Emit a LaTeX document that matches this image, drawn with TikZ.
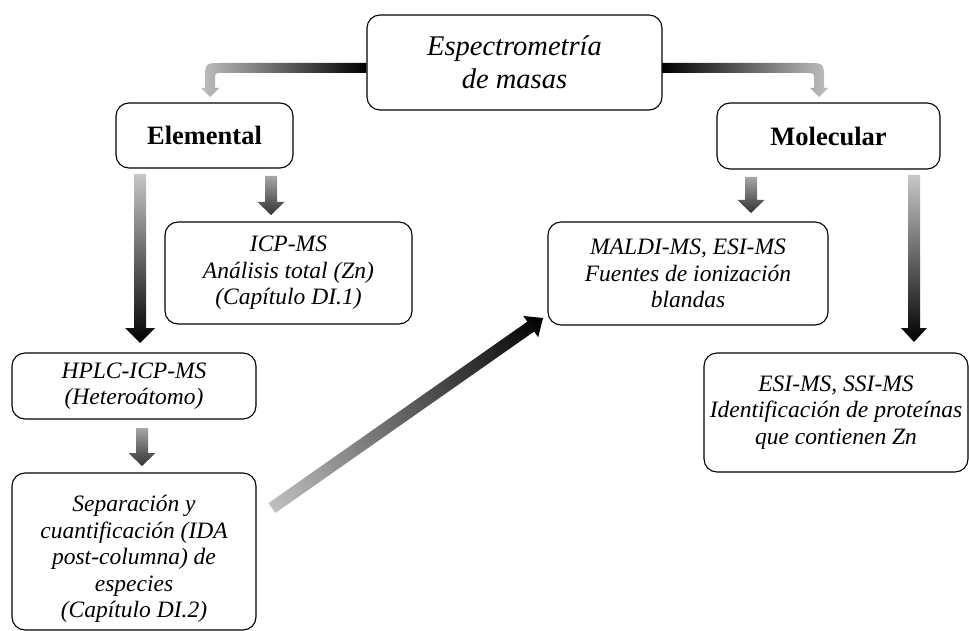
\documentclass[tikz,border=0pt]{standalone}
\usepackage{fontspec}
\setmainfont{Liberation Serif}
\usetikzlibrary{calc}
\pgfdeclarelayer{bg}
\pgfsetlayers{bg,main}
\tikzset{
  box/.style={draw=black, line width=1.1pt, rounded corners=13pt, fill=white,
    align=center, inner sep=0pt,
    font=\fontsize{23.5}{26.5}\selectfont\itshape},
  boldbox/.style={box, font=\fontsize{26.5}{29}\selectfont\bfseries},
}
% gradient block arrow: #1 start, #2 end, #3 half shaft, #4 half head, #5 head length, #6 start colour, #7 end colour
\newcommand\gradarrow[7]{%
  \path let \p1=(#1), \p2=(#2),
    \n1={atan2(\y2-\y1,\x2-\x1)}, \n2={veclen(\x2-\x1,\y2-\y1)} in
    \pgfextra{\xdef\gax{\x1}\xdef\gay{\y1}\xdef\gaang{\n1}\xdef\galen{\n2}};
  \begin{scope}[transform canvas={shift={(\gax,\gay)}, rotate=\gaang}]
    \shade[left color=#6, right color=#7]
      (0pt,-#3pt) -- (\galen-#5pt,-#3pt) -- (\galen-#5pt,-#4pt)
      -- (\galen,0pt) -- (\galen-#5pt,#4pt) -- (\galen-#5pt,#3pt)
      -- (0pt,#3pt) -- cycle;
  \end{scope}
}
\begin{document}
\begin{tikzpicture}[x=1pt,y=-1pt]
\useasboundingbox (0,0) rectangle (969,631);
\begin{pgfonlayer}{bg}
  \fill[white] (0,0) rectangle (969,631);
\end{pgfonlayer}

% boxes
\node[box, minimum width=295pt, minimum height=95pt,
      font=\fontsize{28.5}{33}\selectfont\itshape] (top) at (514.5,62.5) {Espectrometría\\de masas};
\node[boldbox, minimum width=177pt, minimum height=65pt] (elem) at (204.5,135.5) {Elemental};
\node[boldbox, minimum width=223pt, minimum height=66pt] (mol) at (828.5,136) {Molecular};
\node[box, minimum width=247pt, minimum height=102pt] (icp) at (288.5,273) {ICP-MS\\Análisis total (Zn)\\(Capítulo DI.1)};
\node[box, minimum width=280pt, minimum height=103pt] (maldi) at (688,273.5) {MALDI-MS, ESI-MS\\Fuentes de ionización\\blandas};
\node[box, minimum width=244pt, minimum height=66pt] (hplc) at (134,386) {HPLC-ICP-MS\\(Heteroátomo)};
\node[box, minimum width=244pt, minimum height=157pt] (sep) at (134,551.5) {\rule{0pt}{31pt}Separación y\\cuantificación (IDA\\post-columna) de\\especies\\(Capítulo DI.2)};
\node[box, minimum width=264pt, minimum height=119pt] (esi) at (836,412.5) {ESI-MS, SSI-MS\\Identificación de proteínas\\que contienen Zn};

% arrow end points
\coordinate (a1s) at (140,174);  \coordinate (a1e) at (140,343);
\coordinate (a2s) at (271,176);  \coordinate (a2e) at (271,215);
\coordinate (a3s) at (142,428);  \coordinate (a3e) at (142,466);
\coordinate (a4s) at (751,177);  \coordinate (a4e) at (751,213);
\coordinate (a5s) at (914,175);  \coordinate (a5e) at (914,342);
\coordinate (d1s) at (272,508);  \coordinate (d1e) at (543,318);

\begin{pgfonlayer}{bg}
  % bent arrows from the top box
  \shade[left color=black!25, right color=black]
    (top.west |- 0,63) -- (222,63) .. controls (205,63) .. (205,80) -- (205,88)
    -- (201,88) -- (210,97) -- (219,88) -- (215,88) -- (215,80)
    .. controls (215,73) .. (222,73) -- (top.west |- 0,73) -- cycle;
  \shade[left color=black, right color=black!25]
    (top.east |- 0,63) -- (807,63) .. controls (824,63) .. (824,80) -- (824,88)
    -- (828,88) -- (819,97) -- (810,88) -- (814,88) -- (814,80)
    .. controls (814,73) .. (807,73) -- (top.east |- 0,73) -- cycle;
\end{pgfonlayer}

\gradarrow{a1s}{a1e}{6}{15}{15}{black!22}{black}
\gradarrow{a2s}{a2e}{6}{13.5}{13}{black!35}{black!80}
\gradarrow{a3s}{a3e}{6}{13.5}{13}{black!35}{black!80}
\gradarrow{a4s}{a4e}{6}{13.5}{13}{black!35}{black!80}
\gradarrow{a5s}{a5e}{6}{13}{14}{black!22}{black}
\gradarrow{d1s}{d1e}{6}{13}{15}{black!25}{black}
\end{tikzpicture}
\end{document}
